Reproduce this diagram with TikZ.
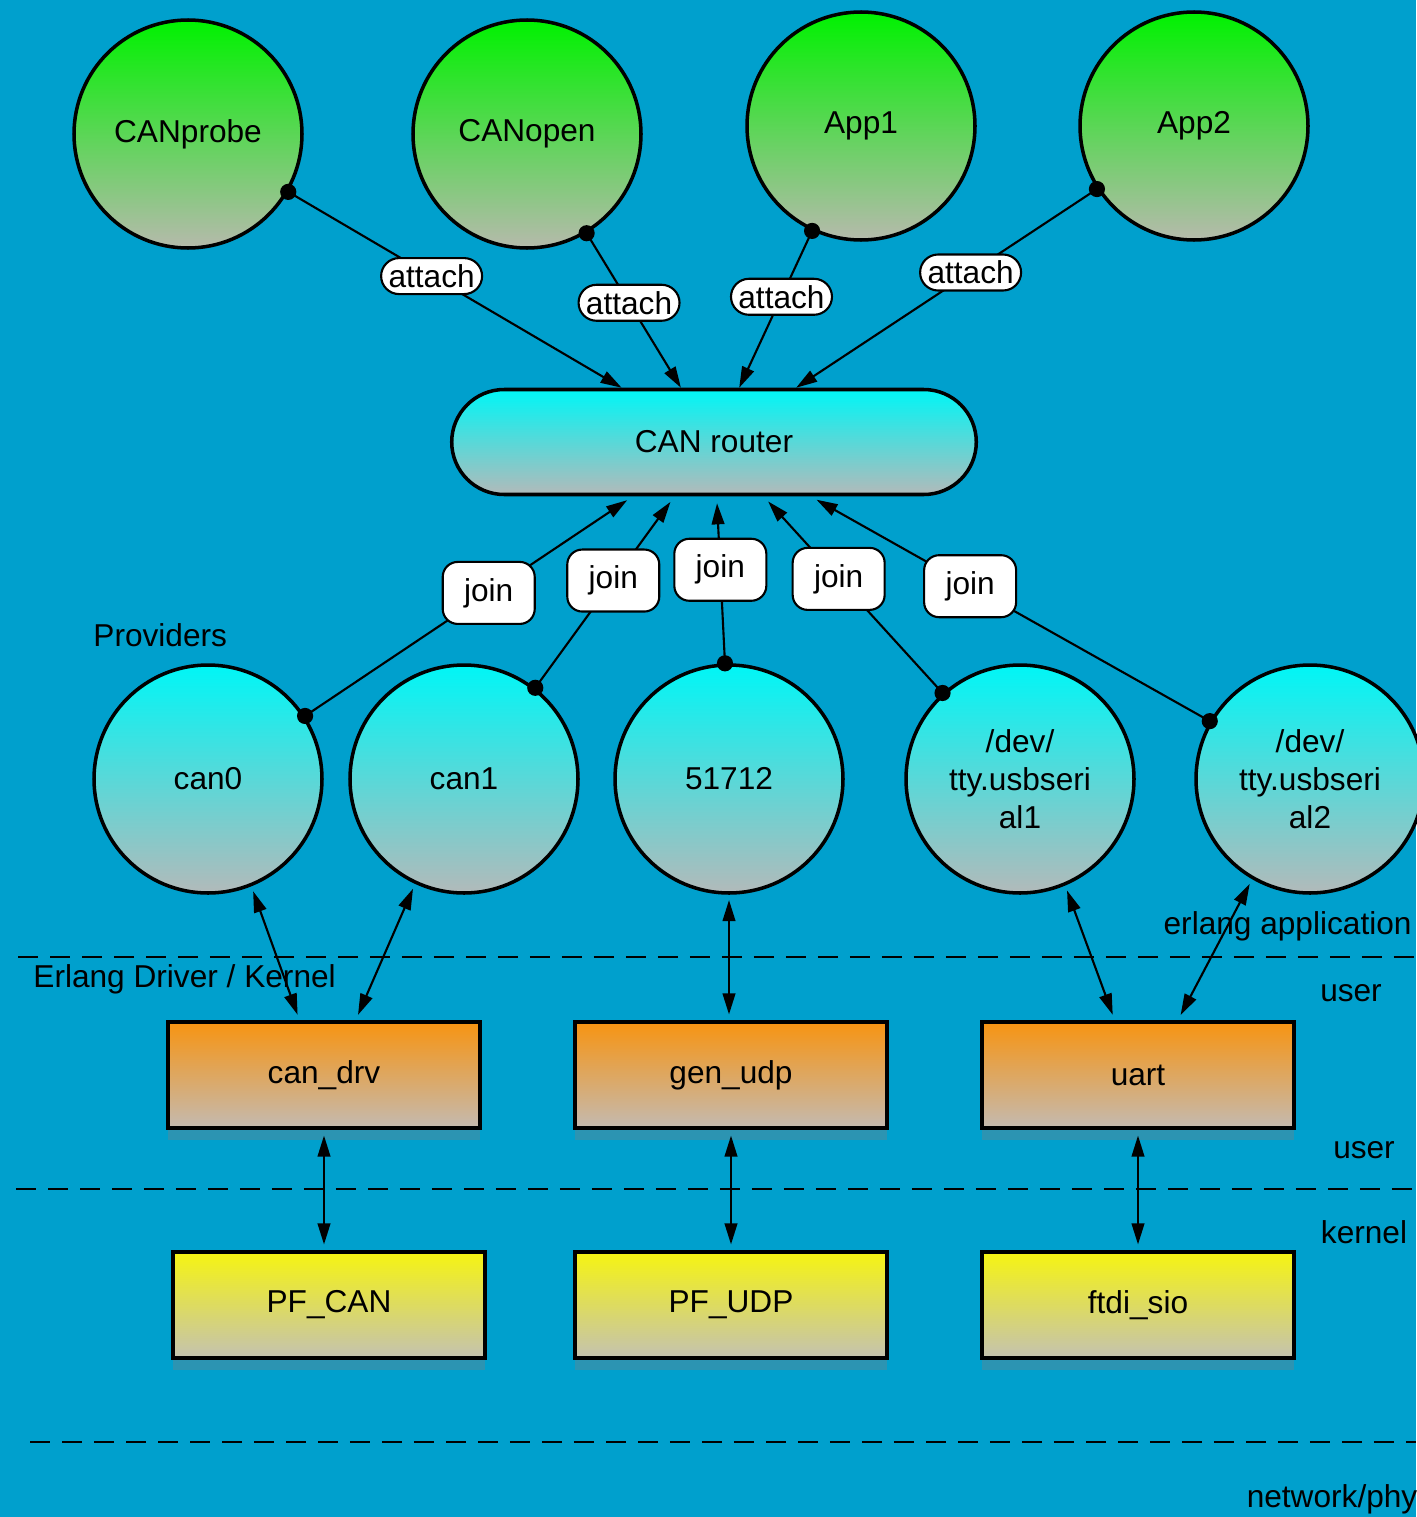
\documentclass[tikz,border=0pt]{standalone}
\usepackage{fontspec}
\setmainfont{Liberation Sans}
\usetikzlibrary{arrows.meta, shapes.misc, shadows}

\definecolor{bgblue}{RGB}{0,160,205}
\definecolor{appgreen}{RGB}{0,242,0}
\definecolor{appgray}{RGB}{182,186,172}
\definecolor{provcyan}{RGB}{0,246,246}
\definecolor{provgray}{RGB}{178,186,186}
\definecolor{drvorange}{RGB}{247,148,18}
\definecolor{drvgray}{RGB}{196,186,176}
\definecolor{kernyellow}{RGB}{246,244,18}
\definecolor{kerngray}{RGB}{196,194,176}

\tikzset{
  app/.style={circle, draw, line width=1pt, minimum size=22.8mm, inner sep=0pt,
    top color=appgreen, bottom color=appgray, align=center},
  provider/.style={app, top color=provcyan, bottom color=provgray},
  router/.style={rounded rectangle, draw, line width=1pt, minimum width=54.8mm,
    minimum height=10.5mm, top color=provcyan, bottom color=provgray},
  drvbox/.style={rectangle, draw, line width=1.3pt, minimum width=31.2mm,
    minimum height=10.6mm, top color=drvorange, bottom color=drvgray,
    drop shadow={shadow xshift=0pt, shadow yshift=-3.5pt, opacity=0.35}},
  kernbox/.style={drvbox, top color=kernyellow, bottom color=kerngray},
  attachlbl/.style={rounded rectangle, draw, fill=white, line width=0.6pt,
    minimum width=10.8mm, minimum height=3.6mm, inner sep=1pt},
  joinlbl/.style={rectangle, rounded corners=1.5mm, draw, fill=white,
    line width=0.6pt, minimum width=9.2mm, minimum height=6.2mm, inner sep=1pt},
  conn/.style={line width=0.6pt, ->},
  link/.style={line width=0.6pt, <->, shorten <=1.5pt, shorten >=1.5pt},
  layer/.style={line width=0.6pt, dash pattern=on 2mm off 1.2mm},
}

\begin{document}
\begin{tikzpicture}[x=0.1mm, y=-0.1mm, >={Triangle[length=6pt, width=3.6pt]},
    font=\fontsize{9}{10.8}\selectfont]
  % background
  \fill[bgblue] (0,0) rectangle (1416,1517);
  \useasboundingbox (0,0) rectangle (1416,1517);

  % layer separators
  \draw[layer] (18,957) -- (1416,957);
  \draw[layer] (16,1189) -- (1416,1189);
  \draw[layer] (30,1442) -- (1416,1442);

  % applications
  \node[app] (canprobe) at (188,134) {CANprobe};
  \node[app] (canopen) at (527,134) {CANopen};
  \node[app] (app1) at (861,126) {App1};
  \node[app] (app2) at (1194,126) {App2};

  % router
  \node[router] (router) at (714,442) {CAN router};

  % providers
  \node[anchor=west] (provlbl) at (81,635) {Providers};
  \node[provider] (can0) at (208,779) {can0};
  \node[provider] (can1) at (464,779) {can1};
  \node[provider] (udp) at (729,779) {51712};
  \node[provider] (tty1) at (1020,779) {/dev/\\tty.usbseri\\al1};
  \node[provider] (tty2) at (1310,779) {/dev/\\tty.usbseri\\al2};

  % drivers and kernel modules
  \node[drvbox] (candrv) at (324,1075) {can\_drv};
  \node[drvbox] (genudp) at (731,1075) {gen\_udp};
  \node[drvbox] (uart) at (1138,1075) {uart};
  \node[kernbox] (pfcan) at (329,1305) {PF\_CAN};
  \node[kernbox] (pfudp) at (731,1305) {PF\_UDP};
  \node[kernbox] (ftdi) at (1138,1305) {ftdi\_sio};

  % layer labels
  \node[anchor=west] (drvlbl) at (21,979) {Erlang Driver / Kernel};
  \node[anchor=east] (applbl) at (1424,926) {erlang application};
  \node (user1) at (1351,993) {user};
  \node (user2) at (1364,1150) {user};
  \node (kernlbl) at (1364,1232) {kernel};
  \node[anchor=east, inner sep=0pt] (netlbl) at (1418,1499) {network/phy};

  % attach edges
  \draw[conn] (canprobe.-30) -- node[attachlbl, pos=0.43] (att1) {attach} (router);
  \draw[conn] (canopen.-59) -- node[attachlbl, pos=0.45] (att2) {attach} (router);
  \draw[conn] (app1.-115) -- node[attachlbl, pos=0.42] (att3) {attach} (router);
  \draw[conn] (app2.-147) -- node[attachlbl, pos=0.42] (att4) {attach} (router);
  \fill (canprobe.-30) circle (2.3pt);
  \fill (canopen.-59) circle (2.3pt);
  \fill (app1.-115) circle (2.3pt);
  \fill (app2.-147) circle (2.3pt);

  % join edges
  \draw[conn, shorten >=2pt] (can0.33) -- node[joinlbl, pos=0.56] (join1) {join} (router);
  \draw[conn, shorten >=2pt] (can1.52) -- node[joinlbl, pos=0.56] (join2) {join} (router);
  \draw[conn, shorten >=2pt] (udp.92) -- node[joinlbl, pos=0.56] (join3) {join} (router);
  \draw[conn, shorten >=2pt] (tty1.132) -- node[joinlbl, pos=0.58] (join4) {join} (router);
  \draw[conn, shorten >=2pt] (tty2.150) -- node[joinlbl, pos=0.6] (join5) {join} (router);
  \fill (can0.33) circle (2.3pt);
  \fill (can1.52) circle (2.3pt);
  \fill (udp.92) circle (2.3pt);
  \fill (tty1.132) circle (2.3pt);
  \fill (tty2.150) circle (2.3pt);

  % provider to driver
  \draw[link] (can0.-68) -- (candrv.114);
  \draw[link] (can1.-115) -- (candrv.60);
  \draw[link] (udp.south) -- (udp.south |- genudp.north);
  \draw[link] (tty1.-67) -- (uart.113);
  \draw[link] (tty2.-120) -- (uart.54);

  % driver to kernel
  \draw[link] (candrv.south) -- (candrv.south |- pfcan.north);
  \draw[link] (genudp.south) -- (pfudp.north);
  \draw[link] (uart.south) -- (ftdi.north);
\end{tikzpicture}
\end{document}
